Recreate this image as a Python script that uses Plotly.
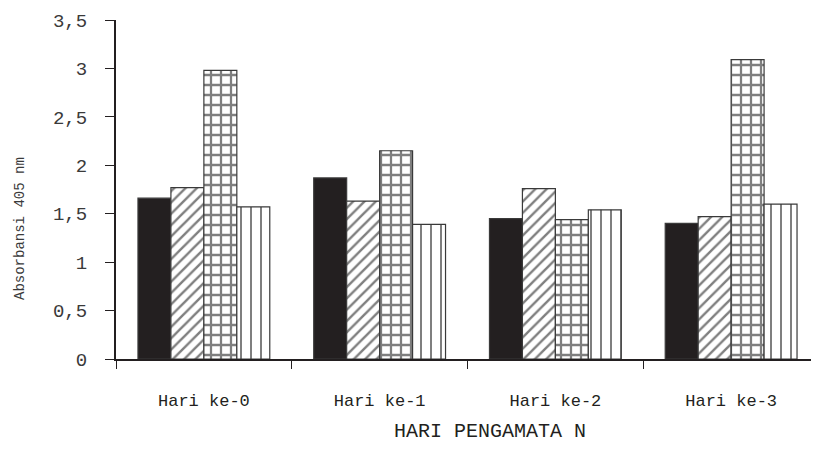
import plotly.graph_objects as go

categories = ["Hari ke-0", "Hari ke-1", "Hari ke-2", "Hari ke-3"]
series_a = [1.66, 1.87, 1.45, 1.40]   # solid black
series_b = [1.77, 1.63, 1.76, 1.47]   # diagonal hatch
series_c = [2.98, 2.15, 1.44, 3.09]   # grid
series_d = [1.57, 1.39, 1.54, 1.60]   # vertical lines
series_names = ["Perlakuan 1", "Perlakuan 2", "Perlakuan 3", "Perlakuan 4"]
y_ticks = [0, 0.5, 1, 1.5, 2, 2.5, 3, 3.5]

FONT = "Liberation Mono, Courier New, monospace"
OUTLINE = dict(color="#3a3a3a", width=1.2)

fig = go.Figure()
fig.add_trace(go.Bar(x=categories, y=series_a, name=series_names[0],
                     marker=dict(color="#231f20", line=OUTLINE)))
fig.add_trace(go.Bar(x=categories, y=series_b, name=series_names[1],
                     marker=dict(color="white", line=OUTLINE,
                                 pattern=dict(shape="/", fgcolor="#000000", bgcolor="white",
                                              size=8, solidity=0.3, fillmode="overlay"))))
fig.add_trace(go.Bar(x=categories, y=series_c, name=series_names[2],
                     marker=dict(color="white", line=OUTLINE,
                                 pattern=dict(shape="+", fgcolor="#000000", bgcolor="white",
                                              size=10, solidity=0.4, fillmode="overlay"))))
fig.add_trace(go.Bar(x=categories, y=series_d, name=series_names[3],
                     marker=dict(color="white", line=OUTLINE,
                                 pattern=dict(shape="|", fgcolor="#000000", bgcolor="white",
                                              size=10, solidity=0.2, fillmode="overlay"))))

# page body adds an 8px margin; compensate so the plot lands where the reference has it
fig.update_layout(
    width=811, height=438,
    margin=dict(l=108, r=0, t=12, b=87),
    barmode="group", bargap=0.25, bargroupgap=0,
    plot_bgcolor="white", paper_bgcolor="white",
    showlegend=False,
    separators=",.",
    font=dict(family=FONT, color="#231f20"),
)
fig.update_xaxes(
    type="category", range=[-0.5, 3.5], automargin=False,
    showline=True, linecolor="#231f20", linewidth=2,
    ticks="outside", tickson="boundaries", ticklen=8, tickwidth=1, tickcolor="#231f20",
    showgrid=False, zeroline=False,
    tickfont=dict(family=FONT, size=17, color="#231f20"),
    ticklabelstandoff=25,
)
fig.update_yaxes(
    range=[0, 3.5], tickvals=y_ticks, automargin=False,
    showline=True, linecolor="#231f20", linewidth=2,
    ticks="outside", ticklen=9, tickwidth=1, tickcolor="#231f20",
    showgrid=False, zeroline=False,
    tickfont=dict(family=FONT, size=19, color="#3a3a3a"),
    ticklabelstandoff=14,
)
fig.add_annotation(text="HARI PENGAMATA N", xref="paper", yref="paper",
                   x=(490 - 116) / 703, y=-86 / 339, showarrow=False,
                   xanchor="center", yanchor="bottom", yshift=0,
                   font=dict(family=FONT, size=20, color="#231f20"))
fig.add_annotation(text="Absorbansi 405 nm", xref="paper", yref="paper",
                   x=-(116 - 20) / 703, y=(359 - 228) / 339, showarrow=False,
                   textangle=-90, xanchor="center", yanchor="middle",
                   font=dict(family=FONT, size=14, color="#3a3a3a"))

fig.write_html("out.html")
